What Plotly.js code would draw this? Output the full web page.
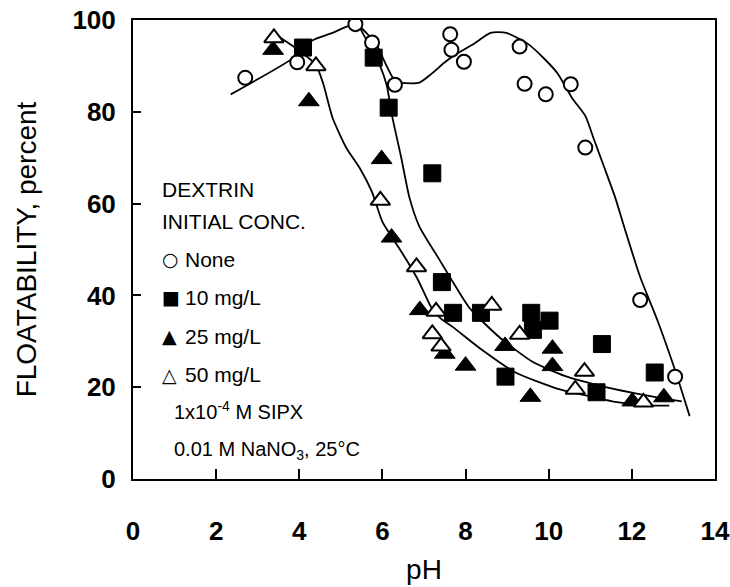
<!DOCTYPE html>
<html>
<head>
<meta charset="utf-8">
<script src="https://cdn.plot.ly/plotly-3.0.1.min.js"></script>
<style>html,body{margin:0;padding:0;background:#fff;}#chart{width:730px;height:587px;}</style>
</head>
<body>
<div id="chart"></div>
<script>
// ---- measured points ----
const pH_none    = [2.70, 3.95, 5.35, 5.75, 6.30, 7.63, 7.66, 7.96, 9.30, 9.42, 9.93, 10.53, 10.88, 12.20, 13.04];
const float_none = [87.4, 90.8, 99.1, 95.1, 85.9, 96.9, 93.5, 90.9, 94.2, 86.1, 83.8, 86.0, 72.2, 39.0, 22.3];

const pH_10    = [4.09, 5.79, 6.15, 7.20, 7.43, 7.70, 8.37, 8.96, 9.58, 9.62, 10.02, 11.15, 11.28, 12.55];
const float_10 = [94.0, 91.8, 80.9, 66.6, 42.9, 36.2, 36.2, 22.3, 36.2, 32.5, 34.5, 18.9, 29.4, 23.2];

const pH_25    = [3.37, 4.23, 5.98, 6.22, 6.90, 7.50, 8.00, 8.95, 9.56, 10.09, 10.09, 12.01, 12.77];
const float_25 = [93.5, 82.3, 69.7, 52.6, 36.8, 27.3, 24.7, 29.0, 17.9, 28.4, 24.6, 16.9, 17.8];

const pH_50    = [3.39, 4.40, 5.95, 6.82, 7.20, 7.29, 7.41, 8.63, 9.30, 10.64, 10.86, 12.28];
const float_50 = [96.1, 90.0, 60.7, 46.2, 31.6, 36.5, 28.9, 37.8, 31.5, 19.5, 23.4, 16.7];

// ---- fitted curves ----
const curve_none_pH    = [2.35, 3.85, 4.30, 4.80, 5.20, 5.45, 5.85, 6.08, 6.32, 6.70, 6.90, 7.17, 7.53, 7.82, 8.23, 8.60, 8.98, 9.50, 9.90, 10.21, 10.57, 10.88, 11.10, 11.34, 11.60, 11.82, 12.20, 12.61, 13.01, 13.39];
const curve_none_float = [83.8, 91.7, 95.5, 97.2, 98.7, 98.5, 94.7, 90.4, 86.6, 86.2, 86.4, 88.2, 91.0, 92.8, 95.0, 97.2, 97.2, 94.8, 91.5, 88.4, 82.9, 79.1, 73.7, 67.8, 61.3, 54.8, 44.0, 34.7, 24.5, 13.7];

const curve_10_pH    = [5.45, 5.62, 5.93, 6.10, 6.24, 6.45, 6.65, 6.89, 7.37, 7.65, 8.10, 8.80, 9.60, 10.40, 11.20, 12.00, 12.60, 13.20];
const curve_10_float = [98.4, 95.6, 90.3, 85.9, 78.8, 70.1, 61.3, 55.0, 47.8, 43.6, 37.2, 31.0, 25.6, 22.4, 20.4, 18.8, 17.8, 16.9];

const curve_2550_pH    = [3.35, 3.90, 4.40, 4.58, 4.80, 5.14, 5.45, 5.75, 6.00, 6.30, 6.58, 6.86, 7.18, 7.40, 7.68, 8.40, 9.20, 10.20, 10.80, 11.60, 12.40, 12.90];
const curve_2550_float = [97.3, 94.0, 90.2, 86.0, 78.7, 72.0, 67.8, 62.5, 56.0, 51.7, 47.7, 43.3, 37.3, 35.0, 33.2, 28.1, 23.2, 19.7, 18.4, 16.8, 16.0, 16.0];

// ---- text ----
const xTicks = [0, 2, 4, 6, 8, 10, 12, 14];
const yTicks = [0, 20, 40, 60, 80, 100];
const legendHead = ["DEXTRIN", "INITIAL CONC."];
const legendGlyphs = ["○", "■", "▲", "△"];
const legendLabels = ["None", "10 mg/L", "25 mg/L", "50 mg/L"];
const notes = ["1x10<sup>-4</sup> M SIPX", "0.01 M NaNO<sub>3</sub>, 25°C"];

const FONT = "Liberation Sans, Arial, Helvetica, sans-serif";
const lineStyle = {color: "#000", width: 1.8, shape: "spline", smoothing: 0.6};

const traces = [
  {x: curve_none_pH, y: curve_none_float, mode: "lines", line: lineStyle, hoverinfo: "skip"},
  {x: curve_10_pH, y: curve_10_float, mode: "lines", line: lineStyle, hoverinfo: "skip"},
  {x: curve_2550_pH, y: curve_2550_float, mode: "lines", line: lineStyle, hoverinfo: "skip"},
  {x: pH_none, y: float_none, mode: "markers", name: "None",
   marker: {symbol: "circle", size: 14, color: "#fff", line: {color: "#000", width: 2}}},
  {x: pH_10, y: float_10, mode: "markers", name: "10 mg/L",
   marker: {symbol: "square", size: 17, color: "#000", line: {color: "#000", width: 1}}},
  {x: pH_25, y: float_25, mode: "markers", name: "25 mg/L",
   marker: {symbol: "triangle-up", size: 18, color: "#000", line: {color: "#000", width: 1}}},
  {x: pH_50, y: float_50, mode: "markers", name: "50 mg/L",
   marker: {symbol: "triangle-up", size: 17, color: "#fff", line: {color: "#000", width: 2}}}
];

// legend block placement (paper coords)
const annX = 0.046, labelX = 0.086, noteX = 0.067;
const headY = [0.630, 0.560];
const itemY = [0.479, 0.3965, 0.3115, 0.2266];
const noteY = [0.150, 0.063];

const annotations = [];
legendHead.forEach((t, i) => annotations.push({
  xref: "paper", yref: "paper", x: annX, y: headY[i], xanchor: "left", yanchor: "middle",
  text: t, showarrow: false, font: {family: FONT, size: 21, color: "#000"}
}));
legendGlyphs.forEach((g, i) => annotations.push({
  xref: "paper", yref: "paper", x: annX, y: itemY[i], xanchor: "left", yanchor: "middle",
  text: g, showarrow: false, font: {family: "DejaVu Sans", size: 19, color: "#000"}
}));
legendLabels.forEach((t, i) => annotations.push({
  xref: "paper", yref: "paper", x: labelX, y: itemY[i], xanchor: "left", yanchor: "middle",
  text: t, showarrow: false, font: {family: FONT, size: 21, color: "#000"}
}));
notes.forEach((t, i) => annotations.push({
  xref: "paper", yref: "paper", x: noteX, y: noteY[i], xanchor: "left", yanchor: "middle",
  text: t, showarrow: false, font: {family: FONT, size: 20, color: "#000"}
}));

const layout = {
  width: 730, height: 587,
  margin: {l: 133, r: 15, t: 20, b: 108},
  paper_bgcolor: "#fff", plot_bgcolor: "#fff",
  showlegend: false,
  font: {family: FONT, color: "#000"},
  xaxis: {
    range: [0, 14], tickvals: xTicks, ticktext: xTicks.map(String),
    ticks: "inside", ticklen: 10, tickwidth: 2, tickcolor: "#000",
    showline: true, linecolor: "#000", linewidth: 2, mirror: true,
    showgrid: false, zeroline: false,
    tickfont: {family: FONT, size: 26, color: "#000", weight: "bold"}, ticklabelstandoff: 28,
    title: {text: "pH", font: {family: FONT, size: 28, color: "#000"}, standoff: 14}
  },
  yaxis: {
    range: [0, 100], tickvals: yTicks, ticktext: yTicks.map(String),
    ticks: "inside", ticklen: 8, tickwidth: 2, tickcolor: "#000",
    showline: true, linecolor: "#000", linewidth: 2, mirror: true,
    showgrid: false, zeroline: false,
    tickfont: {family: FONT, size: 26, color: "#000", weight: "bold"}, ticklabelstandoff: 10,
    title: {text: "FLOATABILITY, percent", font: {family: FONT, size: 28, color: "#000"}, standoff: 28}
  },
  annotations: annotations
};

Plotly.newPlot("chart", traces, layout, {staticPlot: true, displayModeBar: false});
</script>
</body>
</html>
